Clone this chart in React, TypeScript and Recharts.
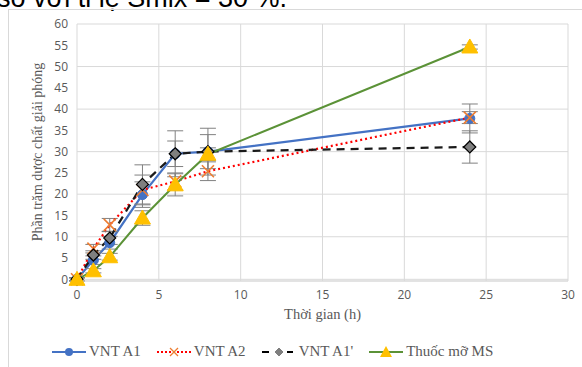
import React from 'react';
import { LineChart, Line, XAxis, YAxis, CartesianGrid, ErrorBar } from 'recharts';

const times = [0, 1, 2, 4, 6, 8, 24];
const vntA1 = [0, 4.5, 8.6, 19.9, 29.5, 30, 37.8];
const vntA1Err = [0.4, 1, 1.5, 3, 3, 4, 3.4];
const vntA2 = [0, 7.2, 12.8, 21, 23, 25.4, 38];
const vntA2Err = [0.4, 1, 1.5, 3.5, 2, 2.2, 1.4];
const vntA1p = [0, 5.7, 9.7, 22.3, 29.5, 30, 31.1];
const vntA1pErr = [0.3, 1, 1.5, 4.6, 5.4, 5.5, 3.8];
const ms = [0, 2, 5.3, 14.4, 22.2, 29.4, 54.6];
const msErr = [0, 0.5, 0.8, 1.7, 2.6, 1.5, 0.5];

const xTicks = [0, 5, 10, 15, 20, 25, 30];
const yTicks = [0, 5, 10, 15, 20, 25, 30, 35, 40, 45, 50, 55, 60];

const seriesNames = ['VNT A1', 'VNT A2', "VNT A1'", 'Thuốc mỡ MS'];
const topLine = 'số với tỉ lệ Smix = 30 %.';
const xTitle = 'Thời gian (h)';
const yTitle = 'Phần trăm dược chất giải phóng';

const data = times.map((t, i) => ({
  t,
  a1: vntA1[i],
  a1Err: vntA1Err[i],
  a2: vntA2[i],
  a2Err: vntA2Err[i],
  a1p: vntA1p[i],
  a1pErr: vntA1pErr[i],
  ms: ms[i],
  msErr: msErr[i],
}));

const BLUE = '#4472C4';
const RED = '#FF0000';
const ORANGE = '#ED7D31';
const GREEN = '#5B9237';
const YELLOW = '#FFC000';
const GRAY = '#7F7F7F';
const ERR = '#808080';

const CircleDot = (p: any) => (
  <circle key={p.index} cx={p.cx} cy={p.cy} r={5} fill={BLUE} stroke={BLUE} strokeWidth={1} />
);
const CrossDot = (p: any) => (
  <g key={p.index} stroke={ORANGE} strokeWidth={1.6}>
    <line x1={p.cx - 6} y1={p.cy - 6} x2={p.cx + 6} y2={p.cy + 6} />
    <line x1={p.cx - 6} y1={p.cy + 6} x2={p.cx + 6} y2={p.cy - 6} />
  </g>
);
const DiamondDot = (p: any) => (
  <path
    key={p.index}
    d={`M${p.cx},${p.cy - 6} L${p.cx + 6},${p.cy} L${p.cx},${p.cy + 6} L${p.cx - 6},${p.cy} Z`}
    fill={GRAY}
    stroke="#000"
    strokeWidth={1.2}
  />
);
const TriDot = (p: any) => (
  <path
    key={p.index}
    d={`M${p.cx},${p.cy - 8} L${p.cx + 8},${p.cy + 6} L${p.cx - 8},${p.cy + 6} Z`}
    fill={YELLOW}
    stroke={YELLOW}
    strokeWidth={1}
  />
);

const LegendIcon = ({ kind }: { kind: number }) => {
  const w = 34;
  const c = w / 2;
  return (
    <svg width={w} height={14} style={{ display: 'block' }}>
      {kind === 0 && (
        <>
          <line x1={0} y1={7} x2={w} y2={7} stroke={BLUE} strokeWidth={2} />
          <circle cx={c} cy={7} r={4} fill={BLUE} />
        </>
      )}
      {kind === 1 && (
        <>
          <line x1={0} y1={7} x2={w} y2={7} stroke={RED} strokeWidth={2} strokeDasharray="2 2" />
          <g stroke={ORANGE} strokeWidth={1.3}>
            <line x1={c - 4} y1={3} x2={c + 4} y2={11} />
            <line x1={c - 4} y1={11} x2={c + 4} y2={3} />
          </g>
        </>
      )}
      {kind === 2 && (
        <>
          <line x1={0} y1={7} x2={w} y2={7} stroke="#000" strokeWidth={2} strokeDasharray="7 5" />
          <rect x={9} y={3} width={16} height={8} fill="#fff" />
          <path d={`M${c},3 L${c + 4},7 L${c},11 L${c - 4},7 Z`} fill={GRAY} stroke={GRAY} />
        </>
      )}
      {kind === 3 && (
        <>
          <line x1={0} y1={7} x2={w} y2={7} stroke={GREEN} strokeWidth={2} />
          <path d={`M${c},1 L${c + 6},12 L${c - 6},12 Z`} fill={YELLOW} />
        </>
      )}
    </svg>
  );
};

const YTitle = () => (
  <text
    x={37}
    y={152}
    transform="rotate(-90 37 152)"
    textAnchor="middle"
    dominantBaseline="central"
    fontFamily="'Liberation Serif', serif"
    fontSize={14}
    fill="#595959"
  >
    {yTitle}
  </text>
);

export default function App() {
  return (
    <div
      style={{
        position: 'fixed',
        left: 0,
        top: 0,
        width: 582,
        height: 367,
        overflow: 'hidden',
        background: '#fff',
      }}
    >
      <svg width={582} height={20} style={{ position: 'absolute', left: 0, top: 0 }}>
        <text x={-3} y={7} fontFamily="'Liberation Sans', Arial, sans-serif" fontSize={27} fill="#000">
          {topLine}
        </text>
      </svg>
      <div
        style={{
          position: 'absolute',
          left: 8,
          top: 9,
          width: 620,
          height: 420,
          border: '1px solid #d9d9d9',
          boxSizing: 'border-box',
        }}
      />
      <div style={{ position: 'absolute', left: 0, top: 0 }}>
        <LineChart
          width={582}
          height={367}
          data={data}
          margin={{ top: 24, right: 14, left: 0, bottom: 56 }}
        >
          <CartesianGrid stroke="#d9d9d9" strokeWidth={1} />
          <XAxis
            dataKey="t"
            type="number"
            domain={[0, 30]}
            ticks={xTicks}
            height={30}
            axisLine={{ stroke: '#d9d9d9' }}
            tickLine={false}
            tickSize={0}
            tickMargin={9}
            tick={{ fill: '#595959', fontSize: 12, fontFamily: "'Open Sans', sans-serif" }}
            label={{
              value: xTitle,
              position: 'bottom',
              offset: -2,
              fill: '#595959',
              fontSize: 14.5,
              fontFamily: "'Liberation Serif', serif",
            }}
          />
          <YAxis
            type="number"
            domain={[0, 60]}
            ticks={yTicks}
            width={77}
            axisLine={false}
            tickLine={false}
            tickSize={0}
            tickMargin={9}
            tick={{ fill: '#595959', fontSize: 12, fontFamily: "'Open Sans', sans-serif" }}
            label={{ content: () => <YTitle /> }}
          />
          <Line
            dataKey="a1"
            stroke={BLUE}
            strokeWidth={2.2}
            dot={CircleDot}
            isAnimationActive={false}
          >
            <ErrorBar dataKey="a1Err" width={8} stroke={ERR} strokeWidth={1} direction="y" />
          </Line>
          <Line
            dataKey="a2"
            stroke={RED}
            strokeWidth={2.2}
            strokeDasharray="2 3"
            dot={CrossDot}
            isAnimationActive={false}
          >
            <ErrorBar dataKey="a2Err" width={8} stroke={ERR} strokeWidth={1} direction="y" />
          </Line>
          <Line
            dataKey="a1p"
            stroke="#1a1a1a"
            strokeWidth={2.2}
            strokeDasharray="8 6"
            dot={DiamondDot}
            isAnimationActive={false}
          >
            <ErrorBar dataKey="a1pErr" width={8} stroke={ERR} strokeWidth={1} direction="y" />
          </Line>
          <Line
            dataKey="ms"
            stroke={GREEN}
            strokeWidth={2}
            dot={TriDot}
            isAnimationActive={false}
          >
            <ErrorBar dataKey="msErr" width={8} stroke={ERR} strokeWidth={1} direction="y" />
          </Line>
        </LineChart>
      </div>
      <div
        style={{
          position: 'absolute',
          left: 52,
          top: 343,
          display: 'flex',
          alignItems: 'center',
          fontFamily: "'Liberation Serif', serif",
          fontSize: 15,
          color: '#595959',
          whiteSpace: 'nowrap',
        }}
      >
        {seriesNames.map((n, i) => (
          <div key={n} style={{ display: 'flex', alignItems: 'center', marginRight: 16 }}>
            <LegendIcon kind={i} />
            <span style={{ marginLeft: 3 }}>{n}</span>
          </div>
        ))}
      </div>
    </div>
  );
}
